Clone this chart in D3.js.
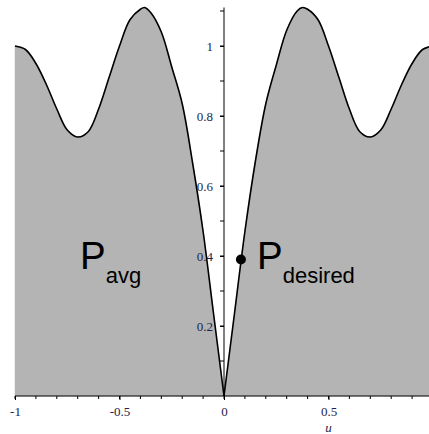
<!DOCTYPE html>
<html>
<head>
<meta charset="utf-8">
<script src="https://cdn.jsdelivr.net/npm/d3@7"></script>
<style>
  body { margin: 0; background: #fff; }
  svg { display: block; }
  .tick text { font-family: "Liberation Serif", "Times New Roman", serif; font-size: 13px; fill: #1c2448; }
</style>
</head>
<body>
<div id="vis"></div>
<script>
// curve, left half then right half
var uLeft = [-1, -0.95, -0.9, -0.85, -0.8, -0.75, -0.7, -0.65, -0.6, -0.55, -0.5, -0.45, -0.4, -0.38, -0.35, -0.3, -0.25, -0.2, -0.15, -0.1, -0.05, 0];
var pLeft = [1.0, 0.99, 0.95, 0.89, 0.82, 0.76, 0.74, 0.755, 0.82, 0.91, 1.0, 1.075, 1.105, 1.11, 1.095, 1.04, 0.94, 0.835, 0.665, 0.47, 0.235, 0];
var uRight = [0, 0.05, 0.1, 0.15, 0.2, 0.25, 0.3, 0.35, 0.375, 0.4, 0.45, 0.5, 0.55, 0.6, 0.65, 0.7, 0.75, 0.8, 0.85, 0.9, 0.95, 1.0];
var pRight = [0, 0.235, 0.47, 0.67, 0.835, 0.945, 1.045, 1.10, 1.11, 1.105, 1.075, 1.0, 0.91, 0.82, 0.755, 0.74, 0.76, 0.82, 0.89, 0.95, 0.99, 1.0];

var xTicks = [-1, -0.5, 0, 0.5, 1];
var xMinor = d3.range(-10, 11).map(function(d) { return d / 10; });
var yTicks = [0.2, 0.4, 0.6, 0.8, 1];
var yMinor = d3.range(1, 12).map(function(d) { return d / 10; });

var dot = { u: 0.081, p: 0.39 };
var labels = [
  { u: -0.689, p: 0.364, main: "P", sub: "avg" },
  { u: 0.158, p: 0.364, main: "P", sub: "desired" }
];

var width = 429, height = 434;
var scales = {
  u: d3.scaleLinear().domain([-1, 1]).range([15, 433]),
  p: d3.scaleLinear().domain([0, 1]).range([396, 46])
};

var svg = d3.select("#vis").append("svg")
  .attr("width", width)
  .attr("height", height);

function pairs(us, ps) {
  return us.map(function(u, i) { return [u, ps[i]]; });
}
var halves = [pairs(uLeft, pLeft), pairs(uRight, pRight)];

var area = d3.area()
  .x(function(d) { return scales.u(d[0]); })
  .y0(scales.p(0))
  .y1(function(d) { return scales.p(d[1]); })
  .curve(d3.curveCatmullRom.alpha(0.5));

var line = d3.line()
  .x(function(d) { return scales.u(d[0]); })
  .y(function(d) { return scales.p(d[1]); })
  .curve(d3.curveCatmullRom.alpha(0.5));

svg.selectAll(".fill")
  .data(halves)
  .enter()
  .append("path")
  .attr("class", "fill")
  .attr("d", area)
  .attr("fill", "#b4b4b4")
  .attr("stroke", "#b4b4b4")
  .attr("stroke-width", 0.5);

// axes through the origin
var x_axis = d3.axisBottom(scales.u)
  .tickValues(xTicks)
  .tickFormat(function(d) { return String(d).replace("\u2212", "-"); })
  .tickSize(4)
  .tickPadding(7);
var gx = svg.append("g")
  .attr("transform", "translate(0," + scales.p(0) + ")")
  .call(x_axis);
gx.select(".domain").remove();
gx.append("line")
  .attr("x1", scales.u(-1)).attr("x2", width)
  .attr("stroke", "#000");
gx.selectAll(".minor")
  .data(xMinor)
  .enter()
  .append("line")
  .attr("x1", function(d) { return scales.u(d); })
  .attr("x2", function(d) { return scales.u(d); })
  .attr("y2", 3)
  .attr("stroke", "#000");

var y_axis = d3.axisLeft(scales.p)
  .tickValues(yTicks)
  .tickFormat(function(d) { return String(d); })
  .tickSize(4)
  .tickPadding(7);
var gy = svg.append("g")
  .attr("transform", "translate(" + scales.u(0) + ",0)")
  .call(y_axis);
gy.select(".domain").remove();
gy.append("line")
  .attr("y1", scales.p(0)).attr("y2", scales.p(1.11))
  .attr("stroke", "#000");
gy.selectAll(".minor")
  .data(yMinor)
  .enter()
  .append("line")
  .attr("y1", function(d) { return scales.p(d); })
  .attr("y2", function(d) { return scales.p(d); })
  .attr("x2", -4)
  .attr("stroke", "#000");
d3.selectAll(".tick line").attr("stroke", "#000");

svg.selectAll(".curve")
  .data(halves)
  .enter()
  .append("path")
  .attr("class", "curve")
  .attr("d", line)
  .attr("fill", "none")
  .attr("stroke", "#000")
  .attr("stroke-width", 1.6);

svg.append("circle")
  .attr("cx", scales.u(dot.u))
  .attr("cy", scales.p(dot.p))
  .attr("r", 5)
  .attr("fill", "#000");

var lab = svg.selectAll(".lab")
  .data(labels)
  .enter()
  .append("text")
  .attr("class", "lab")
  .attr("x", function(d) { return scales.u(d.u); })
  .attr("y", function(d) { return scales.p(d.p); })
  .attr("font-family", "Liberation Sans, Arial, sans-serif")
  .attr("fill", "#000");
lab.append("tspan")
  .attr("font-size", 38.5)
  .text(function(d) { return d.main; });
lab.append("tspan")
  .attr("font-size", 22)
  .attr("dy", 14)
  .text(function(d) { return d.sub; });

svg.append("text")
  .attr("x", scales.u(0.5))
  .attr("y", 432)
  .attr("text-anchor", "middle")
  .attr("font-family", "Liberation Serif, serif")
  .attr("font-style", "italic")
  .attr("font-size", 13)
  .attr("fill", "#1c2448")
  .text("u");
</script>
</body>
</html>
